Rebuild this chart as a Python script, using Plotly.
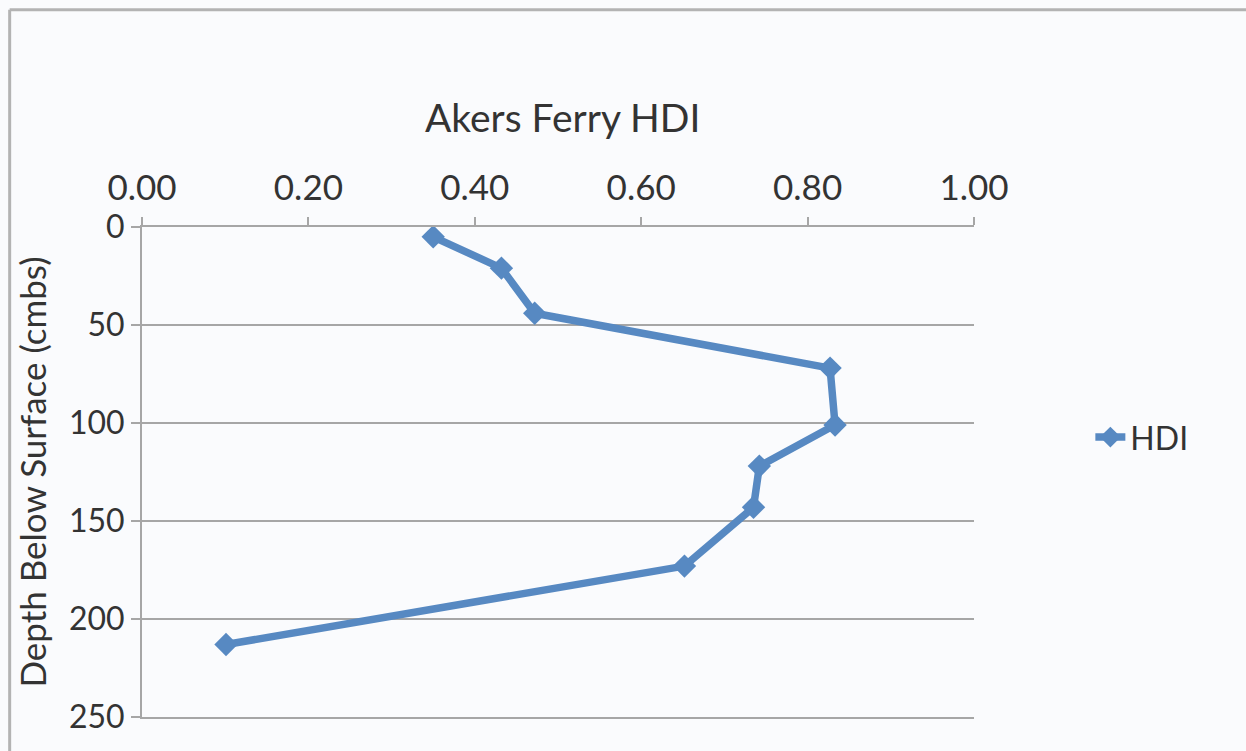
import plotly.graph_objects as go

# HDI profile with depth
hdi = [0.350, 0.432, 0.472, 0.827, 0.833, 0.742, 0.735, 0.652, 0.101]
depth_cmbs = [5, 21, 44, 72, 101, 122, 143, 173, 213]

x_ticks = [0.0, 0.2, 0.4, 0.6, 0.8, 1.0]
y_ticks = [0, 50, 100, 150, 200, 250]

W, H = 1246, 751
L, R, T, B = 141.5, 271.5, 226.5, 34
pw, ph = W - L - R, H - T - B

def px_to_paper(x, y):
    return (x - L) / pw, (H - B - y) / ph

FONT = "Lato"
TXT = "#333333"
BLUE = "#5789C2"
GRID = "#A6A6A6"
BG = "#FAFBFD"

fig = go.Figure()
fig.add_trace(go.Scatter(
    x=hdi, y=depth_cmbs, name="HDI", mode="lines+markers",
    line=dict(color=BLUE, width=7.5),
    marker=dict(symbol="diamond", size=18, color=BLUE),
))

# outer frame (top and left edges)
x0, y0 = px_to_paper(9, 9)
x1, _ = px_to_paper(W + 5, 9)
_, y1 = px_to_paper(9, H + 5)
shapes = [
    dict(type="line", xref="paper", yref="paper", x0=x0, y0=y0, x1=x1, y1=y0,
         line=dict(color="#B3B3B3", width=3)),
    dict(type="line", xref="paper", yref="paper", x0=x0, y0=y0, x1=x0, y1=y1,
         line=dict(color="#B3B3B3", width=3)),
]

tx, ty = px_to_paper(563, 116)

fig.update_layout(
    width=W, height=H,
    margin=dict(l=L, r=R, t=T, b=B, pad=0),
    paper_bgcolor=BG, plot_bgcolor=BG,
    font=dict(family=FONT, color=TXT, size=34),
    shapes=shapes,
    annotations=[dict(text="Akers Ferry HDI", xref="paper", yref="paper",
                      x=tx, y=ty, xanchor="center", yanchor="middle",
                      showarrow=False, font=dict(size=39, family=FONT, color=TXT))],
    xaxis=dict(
        side="top", range=[0, 1], tickvals=x_ticks, tickformat=".2f",
        showgrid=False, zeroline=False,
        showline=True, mirror=True, linecolor=GRID, linewidth=2,
        ticks="outside", ticklen=8, tickwidth=2, tickcolor=GRID,
        ticklabelstandoff=3,
        tickfont=dict(size=35, family=FONT, color=TXT),
    ),
    yaxis=dict(
        range=[250, 0], tickvals=y_ticks,
        showgrid=True, gridcolor=GRID, gridwidth=2, zeroline=False,
        showline=True, linecolor=GRID, linewidth=2,
        ticks="outside", ticklen=9, tickwidth=2, tickcolor=GRID,
        tickfont=dict(size=32, family=FONT, color=TXT),
        title=dict(text="Depth Below Surface (cmbs)", standoff=12,
                   font=dict(size=35, family=FONT, color=TXT)),
    ),
    showlegend=True,
    legend=dict(x=(1091 - L) / pw, y=(H - B - 437) / ph, xanchor="left", yanchor="middle",
                bgcolor="rgba(0,0,0,0)", font=dict(size=32, family=FONT, color=TXT)),
)

fig.write_html("out.html")
